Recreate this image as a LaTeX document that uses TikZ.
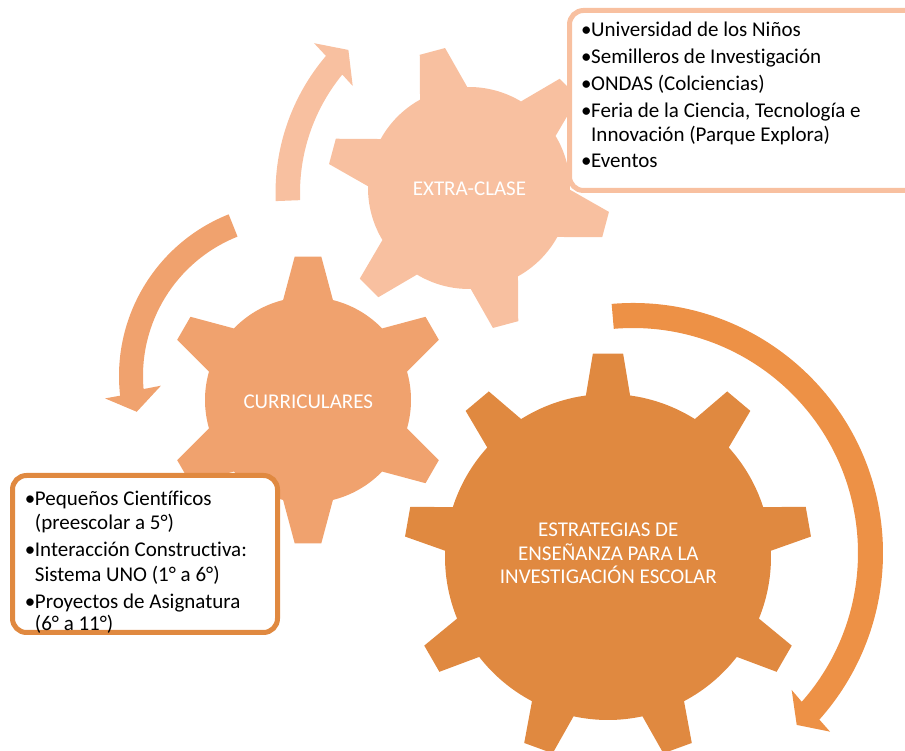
\documentclass[tikz,border=0pt]{standalone}
\usepackage{fontspec}
\setmainfont{Carlito}[Ligatures=NoCommon]
\definecolor{peach}{RGB}{248,192,160}
\definecolor{apricot}{RGB}{240,162,110}
\definecolor{tangerine}{RGB}{224,137,64}
\definecolor{arrowor}{RGB}{237,145,70}
\newcommand{\bul}{\makebox[10pt][l]{\textbullet}}
\newcommand{\boxfont}{\fontsize{21}{24.5}\selectfont}
\newcommand{\gearfont}{\fontsize{21}{23.5}\selectfont}
% color, cx, cy, N, rinner, router, tip half-angle, base half-angle, offset
\newcommand{\mygear}[9]{%
  \pgfmathsetmacro{\gst}{360/#4}%
  \pgfmathtruncatemacro{\glast}{#4-1}%
  \fill[#1,shift={(#2,#3)}] ({#9-#8}:#5pt)
    \foreach \k in {0,...,\glast}{
      -- ({#9+\k*\gst-#7}:#6pt) -- ({#9+\k*\gst+#7}:#6pt)
      -- ({#9+\k*\gst+#8}:#5pt)
      arc[start angle={#9+\k*\gst+#8}, end angle={#9+(\k+1)*\gst-#8}, radius=#5pt]}
    -- cycle;}
\begin{document}
\begin{tikzpicture}[x=1pt,y=1pt,
  geartext/.style={text=white,font=\gearfont,align=center,inner sep=0pt},
  listtext/.style={text=black,font=\boxfont,anchor=north west,inner sep=0pt},
  listbox/.style={line width=5pt,fill=white,rounded corners=14pt}]
\useasboundingbox (0,0) rectangle (905,751);
\clip (0,0) rectangle (905,751);
% gears
\mygear{peach}{469}{563}{6}{101}{142}{5.3}{14}{45}
\mygear{apricot}{308}{351}{6}{103}{144}{5.3}{14}{90}
\mygear{tangerine}{608}{194}{9}{163}{204}{4.25}{7.8}{90}
% arrows
\begin{scope}[shift={(487,558)}]
\fill[peach] (182.2:211.5pt) arc[start angle=182.2, end angle=139.6, radius=211.5pt]
  -- (139.1:228.8pt) -- (134.1:199.2pt) -- (141.45:171.7pt) -- (140.7:187pt)
  arc[start angle=140.7, end angle=182.2, radius=187pt] -- cycle;
\end{scope}
\begin{scope}[shift={(293,375)}]
\fill[apricot] (111.7:174pt) arc[start angle=111.7, end angle=186.5, radius=174pt]
  -- (186.8:189.3pt) -- (192.9:160.3pt) -- (184.2:132.4pt) -- (185:150pt)
  arc[start angle=185, end angle=111.7, radius=150pt] -- cycle;
\end{scope}
\begin{scope}[shift={(633,198)}]
\fill[arrowor] (94.9:250pt) arc[start angle=94.9, end angle=-41.8, radius=250pt]
  -- (-42.2:266pt) -- (-46.4:237.4pt) -- (-40.8:209.6pt) -- (-41.4:225pt)
  arc[start angle=-41.4, end angle=94.9, radius=225pt] -- cycle;
\end{scope}
% gear labels
\node[geartext] (ge) at (469.5,562.7) {EXTRA-CLASE};
\node[geartext] (gc) at (308.3,349.3) {CURRICULARES};
\node[geartext] (gs) at (608.3,197.7) {ESTRATEGIAS DE\\ENSEÑANZA PARA LA\\INVESTIGACIÓN ESCOLAR};
% boxes
\draw[listbox,draw=peach] (569.5,740.5) rectangle (935,560.5);
\node[listtext] (extra) at (581,732.15) {\begin{tabular}{@{}l@{}l@{}}
\bul & Universidad de los Niños\\[2.5pt]
\bul & Semilleros de Investigación\\[2.5pt]
\bul & ONDAS (Colciencias)\\[2.5pt]
\bul & Feria de la Ciencia, Tecnología e\\
 & Innovación (Parque Explora)\\[1pt]
\bul & Eventos
\end{tabular}};
\draw[listbox,draw=tangerine] (12.5,275.5) rectangle (277.5,118.5);
\node[listtext] (curr) at (24.7,263.15) {\begin{tabular}{@{}l@{}l@{}}
\bul & Pequeños Científicos\\
 & (preescolar a 5°)\\[2.5pt]
\bul & Interacción Constructiva:\\
 & Sistema UNO (1° a 6°)\\[2.5pt]
\bul & Proyectos de Asignatura\\[-2pt]
 & (6° a 11°)
\end{tabular}};
\end{tikzpicture}
\end{document}
